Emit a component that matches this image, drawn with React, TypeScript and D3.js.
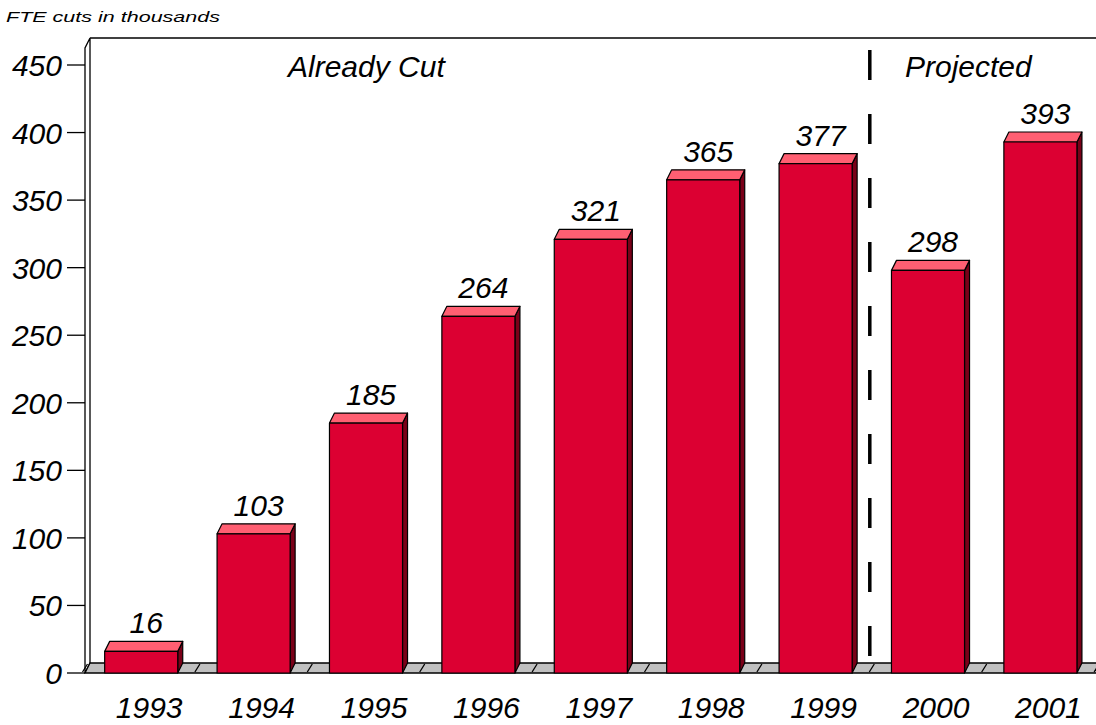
import * as d3 from 'd3'

const years = ['1993', '1994', '1995', '1996', '1997', '1998', '1999', '2000', '2001']
const cuts = [16, 103, 185, 264, 321, 365, 377, 298, 393]
const yTicks = [0, 50, 100, 150, 200, 250, 300, 350, 400, 450]
const sections = ['Already Cut', 'Projected']

const W = 1096
const H = 725
const dx = 5
const dy = -10
const font = "'Liberation Sans', Arial, sans-serif"

export default function App() {
    const x = d3.scaleBand()
        .domain(years)
        .range([85, 85 + 9 * 112.4])
        .paddingInner(0.35)
        .paddingOuter(0.175)
    const y = d3.scaleLinear().domain([0, 450]).range([673, 65])
    const step = x.step()
    const bw = x.bandwidth()
    const left = x.range()[0]
    const base = y(0)
    const top = 38
    // boundary between 1999 and 2000
    const split = (x('2000') as number) - step * x.paddingInner() / 2

    const bounds = d3.range(years.length + 1).map(i => left + i * step)

    return (
        <svg width={W} height={H} style={{ position: 'absolute', left: 0, top: 0, background: '#fff' }}
            fontFamily={font} fontStyle="italic">
            <text x={6} y={22} fontSize={15} textLength={214} lengthAdjust="spacingAndGlyphs">FTE cuts in thousands</text>

            {/* back wall top + left wall */}
            <line x1={left + dx} x2={W + 10} y1={top} y2={top} stroke="#000" strokeWidth={1.5} />
            <path d={`M${left},${base} L${left},${top - dy} L${left + dx},${top} L${left + dx},${base + dy} Z`}
                fill="#fff" stroke="#000" strokeWidth={1.3} />

            {/* floor */}
            <path d={`M${left},${base} L${left + dx},${base + dy} L${W + 20},${base + dy} L${W + 20},${base} Z`}
                fill="#c0c0c0" stroke="#000" strokeWidth={1.3} />
            {bounds.map((b, i) => (
                <line key={i} x1={b - 2.5} y1={base - 1} x2={b + 2.5} y2={base + dy + 1} stroke="#000" strokeWidth={1.3} />
            ))}

            {/* y axis ticks */}
            {yTicks.map(t => (
                <g key={t}>
                    <line x1={67} x2={left} y1={y(t)} y2={y(t)} stroke="#000" strokeWidth={1.3} />
                    <text x={62} y={y(t) + 11} fontSize={30} textAnchor="end">{t}</text>
                </g>
            ))}

            {/* separator */}
            <line x1={split - 2} x2={split - 2} y1={50} y2={660} stroke="#000" strokeWidth={3.5} strokeDasharray="30,34" />
            <text x={288} y={77} fontSize={30}>{sections[0]}</text>
            <text x={905} y={77} fontSize={30}>{sections[1]}</text>

            {/* bars */}
            {years.map((yr, i) => {
                const x0 = x(yr) as number
                const x1 = x0 + bw
                const yt = y(cuts[i])
                return (
                    <g key={yr} stroke="#000" strokeWidth={1.2} strokeLinejoin="round">
                        <path d={`M${x1},${base} L${x1},${yt} L${x1 + dx},${yt + dy} L${x1 + dx},${base + dy} Z`} fill="#7a0018" />
                        <path d={`M${x0},${yt} L${x0 + dx},${yt + dy} L${x1 + dx},${yt + dy} L${x1},${yt} Z`} fill="#ff5f72" />
                        <rect x={x0} y={yt} width={bw} height={base - yt} fill="#dc0032" />
                        <text x={x0 + bw / 2 + dx} y={yt + dy - 8} fontSize={30} textAnchor="middle" stroke="none" fill="#000">{cuts[i]}</text>
                        <text x={x0 + bw / 2 + 8} y={718} fontSize={30} textAnchor="middle" stroke="none" fill="#000">{yr}</text>
                    </g>
                )
            })}
        </svg>
    )
}
